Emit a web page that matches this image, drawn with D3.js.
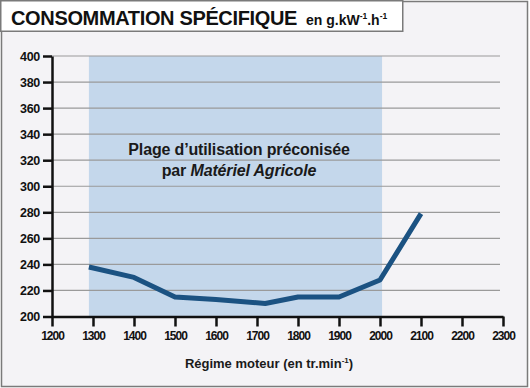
<!DOCTYPE html>
<html>
<head>
<meta charset="utf-8">
<script src="https://cdn.jsdelivr.net/npm/d3@7"></script>
<style>
  body { margin: 0; background: #fff; }
  svg { display: block; font-family: "Liberation Sans", Arial, sans-serif; }
</style>
</head>
<body>
<svg id="chart" width="530" height="388"></svg>
<script>
// data
const regime = [1290, 1400, 1500, 1600, 1720, 1800, 1900, 2000, 2100];
const conso = [238, 230, 215, 213, 210, 215, 215, 228, 279];
const plage = [1290, 2005];
const xTicks = [1200, 1300, 1400, 1500, 1600, 1700, 1800, 1900, 2000, 2100, 2200, 2300];
const yTicks = [200, 220, 240, 260, 280, 300, 320, 340, 360, 380, 400];

const svg = d3.select("#chart");

const x = d3.scaleLinear().domain([1200, 2300]).range([52, 503]);
const y = d3.scaleLinear().domain([200, 400]).range([316.5, 56]);

// panel
svg.append("rect")
    .attr("x", 1.5).attr("y", 1.5).attr("width", 526).attr("height", 385)
    .attr("fill", "#f4f3f6").attr("stroke", "#7a7a7a").attr("stroke-width", 1.5);

// title box
svg.append("rect")
    .attr("x", 0.75).attr("y", 0.75).attr("width", 402).attr("height", 30.5)
    .attr("fill", "#fff").attr("stroke", "#7a7a7a").attr("stroke-width", 1.5);

svg.append("text")
    .attr("x", 11).attr("y", 24.5)
    .attr("fill", "#111").attr("font-weight", "bold")
    .attr("font-size", 20).attr("letter-spacing", -0.35)
    .text("CONSOMMATION SPÉCIFIQUE");

const unit = svg.append("text")
    .attr("x", 306).attr("y", 24.5)
    .attr("fill", "#111").attr("font-weight", "bold");
unit.append("tspan").attr("font-size", 14).text("en g.kW");
unit.append("tspan").attr("font-size", 8.5).attr("dy", -6).text("-1");
unit.append("tspan").attr("font-size", 14).attr("dy", 6).text(".h");
unit.append("tspan").attr("font-size", 8.5).attr("dy", -6).text("-1");

// recommended range
svg.append("rect")
    .attr("x", x(plage[0])).attr("y", y(400))
    .attr("width", x(plage[1]) - x(plage[0]))
    .attr("height", y(200) - y(400))
    .attr("fill", "#c4d7eb");

// grid
svg.append("g").selectAll("line")
    .data(yTicks.filter(d => d > 200))
    .join("line")
    .attr("x1", x(1200)).attr("x2", 500)
    .attr("y1", d => y(d)).attr("y2", d => y(d))
    .attr("stroke", "#9a9a9a").attr("stroke-width", 1.2);

// annotation
const note = svg.append("g").attr("fill", "#1a1a1a").attr("font-weight", "bold")
    .attr("text-anchor", "middle").attr("font-size", 16);
note.append("text").attr("x", 239).attr("y", 155)
    .attr("letter-spacing", -0.15)
    .text("Plage d’utilisation préconisée");
const l2 = note.append("text").attr("x", 239).attr("y", 175.5).attr("letter-spacing", -0.15);
l2.append("tspan").text("par ");
l2.append("tspan").attr("font-style", "italic").text("Matériel Agricole");

// line
svg.append("path")
    .datum(regime.map((r, i) => [r, conso[i]]))
    .attr("fill", "none")
    .attr("stroke", "#1b5282")
    .attr("stroke-width", 5)
    .attr("stroke-linejoin", "round")
    .attr("d", d3.line().x(d => x(d[0])).y(d => y(d[1])));

// axes
const yAxis = svg.append("g")
    .attr("transform", `translate(${x(1200)},0)`)
    .call(d3.axisLeft(y).tickValues(yTicks).tickSize(9).tickPadding(3).tickSizeOuter(0));
const xAxis = svg.append("g")
    .attr("transform", `translate(0,${y(200)})`)
    .call(d3.axisBottom(x).tickValues(xTicks).tickSize(10).tickPadding(5).tickSizeOuter(0).tickFormat(d3.format("d")));

[yAxis, xAxis].forEach(g => {
    g.select(".domain").attr("stroke", "#111").attr("stroke-width", 2.5);
    g.selectAll(".tick line").attr("stroke", "#111").attr("stroke-width", 2.5);
    g.selectAll(".tick text").attr("fill", "#111")
        .attr("font-family", "Liberation Sans, Arial, sans-serif")
        .attr("font-weight", "bold");
});
yAxis.selectAll(".tick text").attr("font-size", 12.5).attr("letter-spacing", -0.3);
xAxis.selectAll(".tick text").attr("font-size", 12).attr("letter-spacing", -1);

// x title
const xt = svg.append("text")
    .attr("x", 269).attr("y", 367.5)
    .attr("text-anchor", "middle").attr("fill", "#1a1a1a")
    .attr("font-size", 13).attr("font-weight", "bold");
xt.append("tspan").text("Régime moteur (en tr.min");
xt.append("tspan").attr("font-size", 8).attr("dy", -5).text("-1");
xt.append("tspan").attr("dy", 5).text(")");
</script>
</body>
</html>
